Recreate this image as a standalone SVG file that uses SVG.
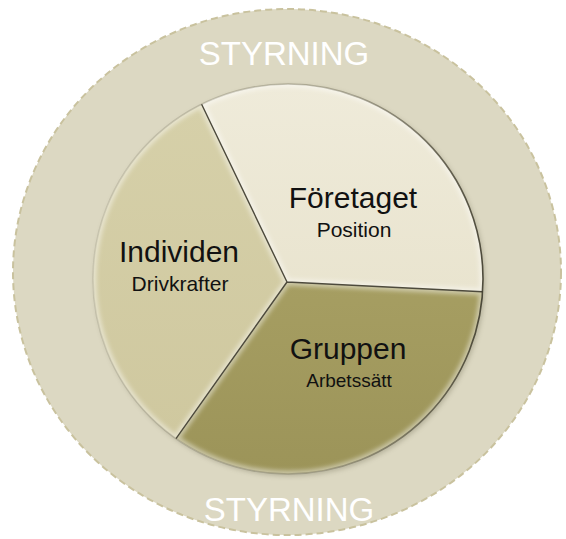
<svg xmlns="http://www.w3.org/2000/svg" width="566" height="539" viewBox="0 0 566 539">
  <style>
    .ring-label { font-family: "Liberation Sans", Arial, sans-serif; font-size: 33px; fill: #ffffff; text-anchor: middle; }
    .title { font-family: "Liberation Sans", Arial, sans-serif; font-size: 30px; fill: #111111; text-anchor: middle; }
    .sub { font-family: "Liberation Sans", Arial, sans-serif; font-size: 21px; fill: #111111; text-anchor: middle; }
    .divider { fill: none; stroke: #4d4a3c; stroke-width: 1.4; stroke-linejoin: round; }
    .bevel { fill: none; stroke: #ffffff; stroke-width: 7; stroke-opacity: 0.45; }
  </style>
  <defs>
    <filter id="blur2" x="-10%" y="-10%" width="120%" height="120%">
      <feGaussianBlur stdDeviation="2"/>
    </filter>
    <filter id="shadow" x="-10%" y="-10%" width="120%" height="120%">
      <feGaussianBlur stdDeviation="2.5"/>
    </filter>
    <linearGradient id="gF" x1="0" y1="0" x2="0" y2="1">
      <stop offset="0" stop-color="#efebda"/>
      <stop offset="1" stop-color="#e9e4cf"/>
    </linearGradient>
    <linearGradient id="gI" x1="0" y1="0" x2="0" y2="1">
      <stop offset="0" stop-color="#d6d0a9"/>
      <stop offset="1" stop-color="#cfc89f"/>
    </linearGradient>
    <linearGradient id="gG" x1="0" y1="0" x2="0" y2="1">
      <stop offset="0" stop-color="#a69e62"/>
      <stop offset="1" stop-color="#9c9459"/>
    </linearGradient>
    <linearGradient id="edgeShade" x1="0" y1="0" x2="1" y2="0">
      <stop offset="0" stop-color="#5a5640" stop-opacity="0.15"/>
      <stop offset="0.6" stop-color="#5a5640" stop-opacity="0.35"/>
      <stop offset="1" stop-color="#3e3b2c" stop-opacity="0.9"/>
    </linearGradient>
    <clipPath id="cF"><path d="M287,282 L201.6,104.2 A195,195 0 0,1 482.6,291.8 Z"/></clipPath>
    <clipPath id="cI"><path d="M287,282 L176,438.6 A195,195 0 0,1 201.6,104.2 Z"/></clipPath>
    <clipPath id="cG"><path d="M287,282 L482.6,291.8 A195,195 0 0,1 176,438.6 Z"/></clipPath>
  </defs>

  <rect width="566" height="539" fill="#ffffff"/>

  <g id="styrning">
    <ellipse cx="287" cy="272" rx="274" ry="263" fill="#dcd8c2" stroke="#c9c29e" stroke-width="2" stroke-dasharray="7 4"/>
    <text class="ring-label" x="284" y="65">STYRNING</text>
    <text class="ring-label" x="289" y="521">STYRNING</text>
  </g>

  <circle cx="290" cy="281" r="195" fill="#6b6750" opacity="0.35" filter="url(#shadow)"/>

  <g id="foretaget">
    <g clip-path="url(#cF)">
      <path d="M287,282 L201.6,104.2 A195,195 0 0,1 482.6,291.8 Z" fill="url(#gF)"/>
      <path d="M287,282 L201.6,104.2 A195,195 0 0,1 482.6,291.8 Z" class="bevel" filter="url(#blur2)"/>
    </g>
    <text class="title" x="353" y="208">Företaget</text>
    <text class="sub" x="354" y="237">Position</text>
  </g>

  <g id="individen">
    <g clip-path="url(#cI)">
      <path d="M287,282 L176,438.6 A195,195 0 0,1 201.6,104.2 Z" fill="url(#gI)"/>
      <path d="M287,282 L176,438.6 A195,195 0 0,1 201.6,104.2 Z" class="bevel" filter="url(#blur2)"/>
    </g>
    <text class="title" x="179" y="262">Individen</text>
    <text class="sub" x="180" y="291">Drivkrafter</text>
  </g>

  <g id="gruppen">
    <g clip-path="url(#cG)">
      <path d="M287,282 L482.6,291.8 A195,195 0 0,1 176,438.6 Z" fill="url(#gG)"/>
      <path d="M287,282 L482.6,291.8 A195,195 0 0,1 176,438.6 Z" class="bevel" stroke-opacity="0.3" filter="url(#blur2)"/>
    </g>
    <text class="title" x="348" y="359">Gruppen</text>
    <text class="sub" x="349" y="387" style="font-size:19px">Arbetssätt</text>
  </g>

  <g id="connectors">
    <path class="divider" d="M201.6,104.2 L287,282 L482.6,291.8 M287,282 L176,438.6"/>
    <circle cx="288" cy="279" r="195" fill="none" stroke="url(#edgeShade)" stroke-width="1.6"/>
  </g>
</svg>
